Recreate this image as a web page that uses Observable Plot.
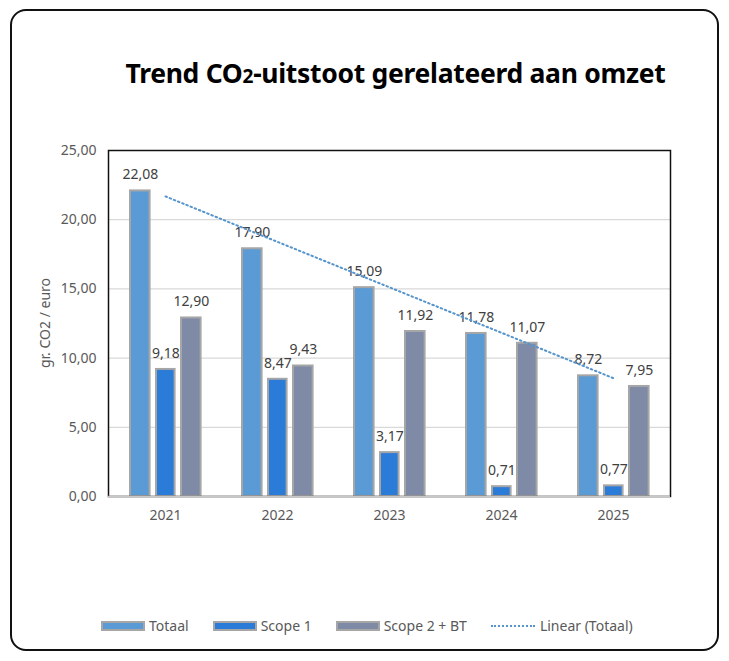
<!DOCTYPE html>
<html>
<head>
<meta charset="utf-8">
<script src="https://cdn.jsdelivr.net/npm/d3@7"></script>
<script src="https://cdn.jsdelivr.net/npm/@observablehq/plot@0.6"></script>
<style>
  html, body { margin: 0; padding: 0; background: #fff; }
  #wrap { position: relative; width: 729px; height: 661px; font-family: "Noto Sans", "Open Sans", sans-serif; overflow: hidden; }
  #frame { position: absolute; left: 10px; top: 9px; width: 709px; height: 642px; box-sizing: border-box; border: 2px solid #111; border-radius: 16px; }
  #title { position: absolute; left: 0; width: 729px; top: 55px; text-align: center; padding-left: 62px; box-sizing: border-box; font-size: 26.5px; font-weight: bold; color: #000; letter-spacing: -0.3px; }
  #title .sub { font-size: 0.72em; }
  #chart { position: absolute; left: 0; top: 110px; }
  #ylabel { position: absolute; left: 44px; top: 323px; transform: translate(-50%, -50%) rotate(-90deg); font-size: 14px; color: #595959; white-space: nowrap; }
  #legend { position: absolute; left: 101px; top: 616px; display: flex; align-items: center; font-size: 14px; color: #595959; }
  #legend .item { display: flex; align-items: center; margin-right: 24px; }
  #legend .sw { width: 44px; height: 10px; box-sizing: border-box; border: 2px solid #A6A6A6; margin-right: 4px; }
  #legend .ln { width: 44px; height: 0; border-top: 2px dotted #5594CC; margin-right: 5px; }
</style>
</head>
<body>
<div id="wrap">
  <div id="frame"></div>
  <div id="title">Trend CO<span class="sub">2</span>-uitstoot gerelateerd aan omzet</div>
  <div id="chart"></div>
  <div id="ylabel">gr. CO2 / euro</div>
  <div id="legend"></div>
</div>
<script>
const years = ["2021", "2022", "2023", "2024", "2025"];
const totaal = [22.08, 17.90, 15.09, 11.78, 8.72];
const scope1 = [9.18, 8.47, 3.17, 0.71, 0.77];
const scope2 = [12.90, 9.43, 11.92, 11.07, 7.95];
const yTicks = [0, 5, 10, 15, 20, 25];
const seriesNames = ["Totaal", "Scope 1", "Scope 2 + BT", "Linear (Totaal)"];
const seriesColors = ["#5B9BD5", "#2B7BD9", "#7F8BA6"];

const fmt = d3.format(".2f");
const nl = v => fmt(v).replace(".", ",");

function rows(values) { return years.map((y, i) => ({ year: y, value: values[i] })); }

// linear trendline (least squares) on Totaal
const xs = years.map((_, i) => i);
const mx = d3.mean(xs), my = d3.mean(totaal);
const slope = d3.sum(xs, (x, i) => (x - mx) * (totaal[i] - my)) / d3.sum(xs, x => (x - mx) ** 2);
const trend = years.map((y, i) => ({ year: y, value: my + slope * (i - mx) }));

const bandW = (729 - 108 - 59) / years.length;
const layout = [
  { data: rows(totaal), color: seriesColors[0], l: 20, r: 42 },
  { data: rows(scope1), color: seriesColors[1], l: 46, r: 67 },
  { data: rows(scope2), color: seriesColors[2], l: 71, r: 93 }
];

const marks = [
  Plot.gridY(yTicks.slice(1), { stroke: "#D9D9D9", strokeOpacity: 1, strokeWidth: 1.2 }),
];
for (const s of layout) {
  marks.push(Plot.barY(s.data, {
    x: "year", y: "value", fill: s.color, stroke: "#A6A6A6", strokeWidth: 2,
    insetLeft: s.l + 1, insetRight: bandW - s.r + 1
  }));
}
marks.push(Plot.frame({ stroke: "#111", strokeWidth: 1.5 }));
marks.push(Plot.ruleY([0], { stroke: "#C8C8C8", strokeWidth: 1.5 }));
for (const s of layout) {
  marks.push(Plot.text(s.data, {
    x: "year", y: "value", text: d => nl(d.value), dy: -16,
    dx: (s.l + s.r) / 2 - bandW / 2,
    fill: "#404040", fontSize: 14
  }));
}
marks.push(Plot.line(trend, {
  x: "year", y: "value", stroke: "#5594CC", strokeWidth: 2, strokeDasharray: "1.5,3"
}));

const chart = Plot.plot({
  width: 729, height: 430,
  marginLeft: 108, marginRight: 59, marginTop: 40, marginBottom: 44,
  style: { fontFamily: "'Noto Sans', sans-serif", fontSize: "14px", color: "#595959", background: "transparent", overflow: "visible" },
  x: { domain: years, padding: 0, label: null, tickSize: 0, tickPadding: 14 },
  y: { domain: [0, 25], ticks: yTicks, tickFormat: nl, label: null, tickSize: 0, tickPadding: 12 },
  marks
});
document.getElementById("chart").appendChild(chart);

// legend
const legend = document.getElementById("legend");
seriesNames.forEach((name, i) => {
  const item = document.createElement("div");
  item.className = "item";
  const sw = document.createElement("div");
  if (i < 3) { sw.className = "sw"; sw.style.background = seriesColors[i]; }
  else sw.className = "ln";
  const t = document.createElement("span");
  t.textContent = name;
  item.appendChild(sw); item.appendChild(t);
  legend.appendChild(item);
});
</script>
</body>
</html>
